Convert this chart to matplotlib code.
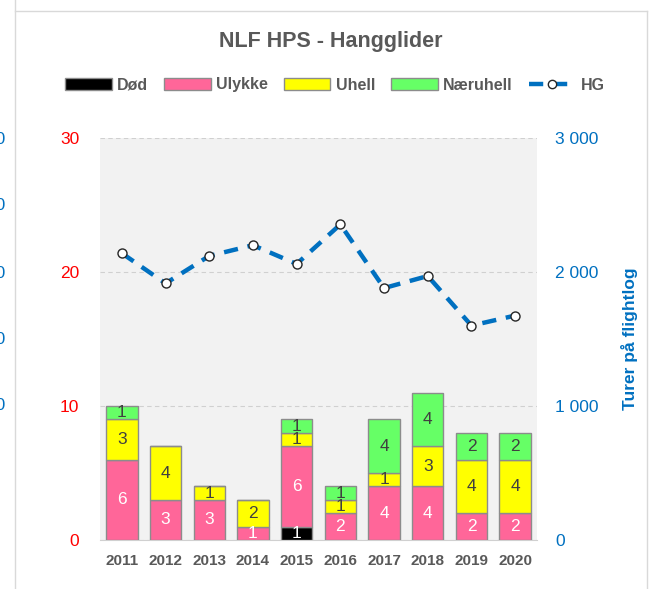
import matplotlib
matplotlib.use("Agg")
import matplotlib.pyplot as plt
from matplotlib.patches import Patch
from matplotlib.lines import Line2D
from matplotlib.ticker import FuncFormatter

plt.rcParams["font.family"] = ["Liberation Sans", "DejaVu Sans"]

# ── data ─────────────────────────────────────────────────────────────
years = ["2011", "2012", "2013", "2014", "2015", "2016", "2017", "2018", "2019", "2020"]
dod = [0, 0, 0, 0, 1, 0, 0, 0, 0, 0]
ulykke = [6, 3, 3, 1, 6, 2, 4, 4, 2, 2]
uhell = [3, 4, 1, 2, 1, 1, 1, 3, 4, 4]
naeruhell = [1, 0, 0, 0, 1, 1, 4, 4, 2, 2]
hg_turer = [2140, 1915, 2120, 2200, 2060, 2355, 1880, 1970, 1600, 1675]

# ── farger ───────────────────────────────────────────────────────────
C_DOD = "#000000"
C_ULY = "#FF6699"
C_UHE = "#FFFF00"
C_NAR = "#66FF66"
C_HG = "#0070C0"
C_TXT = "#595959"
C_EDGE = "#8C8C8C"

W, H = 655, 589
fig = plt.figure(figsize=(W / 100, H / 100), dpi=100)
fig.patch.set_facecolor("white")

ax = fig.add_axes([100 / W, (H - 540) / H, 437 / W, 402 / H])
ax.set_facecolor("#F2F2F2")

x = list(range(len(years)))
series = [
    ("Død", dod, C_DOD, "white"),
    ("Ulykke", ulykke, C_ULY, "white"),
    ("Uhell", uhell, C_UHE, "#404040"),
    ("Næruhell", naeruhell, C_NAR, "#404040"),
]
bottom = [0] * len(years)
for name, vals, col, tcol in series:
    bars = ax.bar(x, vals, width=0.72, bottom=bottom, color=col,
                  edgecolor=C_EDGE, linewidth=1.0, zorder=3)
    for b, v, b0 in zip(bars, vals, bottom):
        if v > 0:
            ax.text(b.get_x() + b.get_width() / 2, b0 + v / 2, str(v),
                    ha="center", va="center", fontsize=12.5, color=tcol, zorder=5)
    bottom = [a + b for a, b in zip(bottom, vals)]

ax.set_xlim(-0.5, len(years) - 0.5)
ax.set_ylim(0, 30)
ax.set_yticks([0, 10, 20, 30])
ax.grid(axis="y", color="#D0D0D0", linestyle=(0, (4, 3)), linewidth=0.8, zorder=0)
for s in ["top", "right", "left"]:
    ax.spines[s].set_visible(False)
ax.spines["bottom"].set_color("#D0D0D0")
ax.tick_params(axis="both", length=0)
ax.tick_params(axis="y", colors="#FF0000", labelsize=12.5, pad=15)
ax.set_xticks(x)
ax.set_xticklabels(years, fontsize=11, fontweight="bold", color=C_TXT)
ax.tick_params(axis="x", pad=10)

ax2 = ax.twinx()
ax2.plot(x, hg_turer, color=C_HG, linewidth=3.2, linestyle=(0, (3.2, 2.2)),
         marker="o", markersize=6.5, markerfacecolor="white",
         markeredgecolor="#262626", markeredgewidth=1.0, zorder=6)
ax2.set_ylim(0, 3000)
ax2.set_yticks([0, 1000, 2000, 3000])
ax2.yaxis.set_major_formatter(FuncFormatter(lambda v, p: f"{int(v):,}".replace(",", " ")))
for s in ax2.spines.values():
    s.set_visible(False)
ax2.tick_params(axis="y", length=0, colors=C_HG, labelsize=12.5, pad=13)
ax2.set_ylabel("Turer på flightlog", color=C_HG, fontsize=12.5, fontweight="bold",
               labelpad=16)

# ── tittel og legend ─────────────────────────────────────────────────
fig.text(331 / W, 1 - 42 / H, "NLF HPS - Hangglider", ha="center", va="center",
         fontsize=15.5, fontweight="bold", color=C_TXT)

handles = [
    Patch(facecolor=C_DOD, edgecolor=C_EDGE, label="Død"),
    Patch(facecolor=C_ULY, edgecolor=C_EDGE, label="Ulykke"),
    Patch(facecolor=C_UHE, edgecolor=C_EDGE, label="Uhell"),
    Patch(facecolor=C_NAR, edgecolor=C_EDGE, label="Næruhell"),
    Line2D([], [], color=C_HG, linewidth=3.2, linestyle=(0, (3.2, 2.2)), marker="o",
           markersize=6, markerfacecolor="white", markeredgecolor="#262626",
           label="HG"),
]
leg = fig.legend(handles=handles, loc="center", bbox_to_anchor=(335 / W, 1 - 85 / H),
                 ncol=5, frameon=False, handlelength=2.9, handleheight=0.75,
                 handletextpad=0.35, columnspacing=1.0,
                 prop={"weight": "bold", "size": 11.5})
for t in leg.get_texts():
    t.set_color(C_TXT)

# ── ramme og rester fra naboskjema ───────────────────────────────────
border = "#D9D9D9"
fig.add_artist(Line2D([15 / W, 15 / W], [0, 1], color=border, linewidth=1.0))
fig.add_artist(Line2D([15 / W, 647 / W], [1 - 10.5 / H, 1 - 10.5 / H], color=border, linewidth=1.0))
fig.add_artist(Line2D([647 / W, 647 / W], [0, 1 - 10.5 / H], color=border, linewidth=1.0))
for yp in [139, 206, 273, 339, 406]:
    fig.text(6 / W, 1 - yp / H, "00", ha="right", va="center", fontsize=12.5,
             color=C_HG)

fig.savefig("out.png", dpi=100, facecolor="white")
